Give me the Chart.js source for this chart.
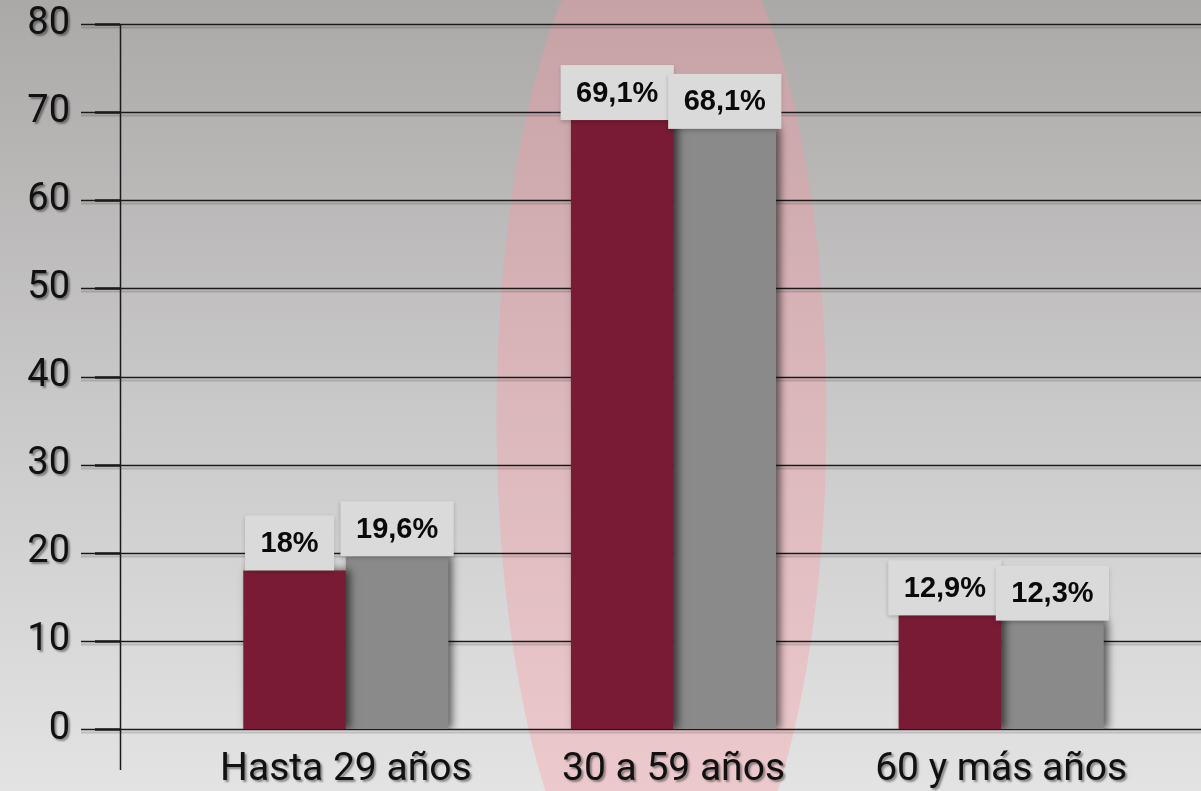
<!DOCTYPE html>
<html>
<head>
<meta charset="utf-8">
<script src="https://cdn.jsdelivr.net/npm/chart.js@4"></script>
<style>
  html, body { margin: 0; padding: 0; background: #e0e0e0; }
  #wrap { width: 1201px; height: 791px; }
</style>
</head>
<body>
<div id="wrap"><canvas id="grafica" width="1201" height="791"></canvas></div>
<script>
// datos
const categorias = ['Hasta 29 años', '30 a 59 años', '60 y más años'];
const serieA = [18, 69.1, 12.9];
const serieB = [19.6, 68.1, 12.3];
const ticksY = [0, 10, 20, 30, 40, 50, 60, 70, 80];

const COLOR_A = '#7a1b36';
const COLOR_B = '#8a8a8a';
const EJE_X = 120;      // linea vertical del eje
const GRID_X0 = 81;     // inicio de las lineas de la grilla

function etiqueta(v) {
  return String(v).replace('.', ',') + '%';
}

// fondo, elipse rosada y sombra de los textos de los ejes
const fondoPlugin = {
  id: 'fondo',
  beforeDraw(chart) {
    const {ctx, width, height} = chart;
    const x = chart.scales.x;
    ctx.save();
    const g = ctx.createLinearGradient(0, 0, 0, height);
    g.addColorStop(0, '#aba9a8');
    g.addColorStop(0.5, '#c9c8c8');
    g.addColorStop(1, '#e3e3e3');
    ctx.fillStyle = g;
    ctx.fillRect(0, 0, width, height);

    // elipse detras del grupo central
    const cx = x.getPixelForValue(1) - 12;
    ctx.fillStyle = 'rgba(255,150,160,0.33)';
    ctx.beginPath();
    ctx.ellipse(cx, 418, 165, 525, 0, 0, Math.PI * 2);
    ctx.fill();
    ctx.restore();

    // sombra para las etiquetas de los ejes
    ctx.shadowColor = 'rgba(0,0,0,0.4)';
    ctx.shadowOffsetX = 2;
    ctx.shadowOffsetY = 2;
    ctx.shadowBlur = 2;
  },
  beforeDatasetsDraw(chart) {
    const {ctx, width} = chart;
    const y = chart.scales.y;
    ctx.shadowColor = 'transparent';
    ctx.shadowOffsetX = 0;
    ctx.shadowOffsetY = 0;
    ctx.shadowBlur = 0;

    ctx.save();
    y.ticks.forEach(t => {
      const py = Math.round(y.getPixelForValue(t.value)) + 0.5;
      // sombra suave de la linea
      ctx.strokeStyle = 'rgba(0,0,0,0.15)';
      ctx.lineWidth = 2;
      ctx.beginPath();
      ctx.moveTo(GRID_X0, py + 3);
      ctx.lineTo(width, py + 3);
      ctx.stroke();
      ctx.strokeStyle = '#1a1a1a';
      ctx.lineWidth = 1.3;
      ctx.beginPath();
      ctx.moveTo(GRID_X0, py);
      ctx.lineTo(width, py);
      ctx.stroke();
      // marca
      ctx.lineWidth = 2.5;
      ctx.beginPath();
      ctx.moveTo(95, py);
      ctx.lineTo(EJE_X, py);
      ctx.stroke();
    });
    // eje vertical
    ctx.strokeStyle = '#1a1a1a';
    ctx.lineWidth = 1.5;
    ctx.beginPath();
    ctx.moveTo(EJE_X + 0.5, y.getPixelForValue(80));
    ctx.lineTo(EJE_X + 0.5, 770);
    ctx.stroke();
    ctx.restore();

    // sombra de las barras
    ctx.shadowColor = 'rgba(0,0,0,0.6)';
    ctx.shadowOffsetX = 4;
    ctx.shadowOffsetY = 0;
    ctx.shadowBlur = 8;
  },
  afterDatasetsDraw(chart) {
    const {ctx} = chart;
    ctx.shadowColor = 'transparent';
    ctx.shadowOffsetX = 0;
    ctx.shadowBlur = 0;
    ctx.save();
    ctx.font = 'bold 29px "Liberation Sans", Arial, sans-serif';
    ctx.textAlign = 'center';
    ctx.textBaseline = 'middle';
    chart.data.datasets.forEach((ds, i) => {
      const meta = chart.getDatasetMeta(i);
      meta.data.forEach((bar, j) => {
        const txt = etiqueta(ds.data[j]);
        const w = ctx.measureText(txt).width + 31;
        const h = 55;
        const cx = bar.x - (i === 0 ? 5 : 0);
        ctx.shadowColor = 'rgba(0,0,0,0.2)';
        ctx.shadowBlur = 4;
        ctx.shadowOffsetY = 2;
        ctx.fillStyle = '#dadada';
        ctx.fillRect(cx - w / 2, bar.y - h, w, h);
        ctx.shadowColor = 'transparent';
        ctx.fillStyle = '#0a0a0a';
        ctx.fillText(txt, cx, bar.y - h / 2 + 1);
      });
    });
    ctx.restore();
  }
};

new Chart(document.getElementById('grafica'), {
  type: 'bar',
  data: {
    labels: categorias,
    datasets: [
      { label: 'A', data: serieA, backgroundColor: COLOR_A, borderWidth: 0 },
      { label: 'B', data: serieB, backgroundColor: COLOR_B, borderWidth: 0 }
    ]
  },
  options: {
    responsive: false,
    animation: false,
    categoryPercentage: 0.626,
    barPercentage: 1.0,
    layout: { padding: { top: 24, right: 36, bottom: 0, left: 0 } },
    plugins: {
      legend: { display: false },
      tooltip: { enabled: false }
    },
    scales: {
      y: {
        min: 0,
        max: 80,
        afterBuildTicks: (s) => { s.ticks = ticksY.map(v => ({ value: v })); },
        afterFit: (s) => { s.width = 182; s.paddingTop = 0; s.paddingBottom = 0; },
        // marcas invisibles largas: separan las etiquetas del area de barras
        grid: { display: false, drawTicks: true, tickLength: 112 },
        border: { display: false },
        ticks: {
          color: '#111',
          padding: 0,
          font: { family: 'Roboto', size: 38 }
        }
      },
      x: {
        afterFit: (s) => { s.height = 62; },
        grid: { display: false, drawTicks: false },
        border: { display: false },
        ticks: {
          color: '#111',
          padding: 18,
          font: { family: 'Roboto', size: 39 }
        }
      }
    }
  },
  plugins: [fondoPlugin]
});
</script>
</body>
</html>
